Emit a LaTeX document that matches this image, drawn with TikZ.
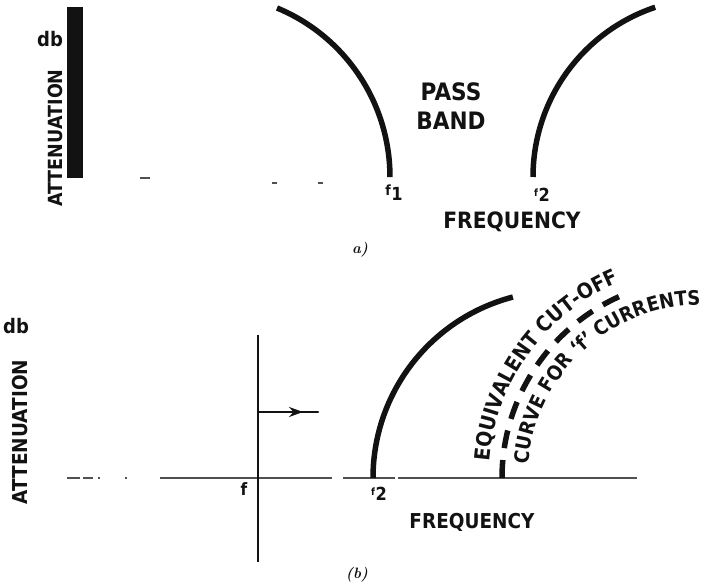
\documentclass[tikz,border=0pt]{standalone}
\usepackage{fontspec}
\usepackage{tikz}
\usetikzlibrary{positioning,arrows.meta,calc,decorations.text}
\newfontfamily\lblfont{DejaVu Sans}[FakeStretch=0.9]
\newcommand\fsub[2]{{\fontsize{#1}{#1}\selectfont f}\kern0.5pt\raisebox{-5pt}{#2}}
\definecolor{ink}{RGB}{18,18,18}
\definecolor{axisgray}{RGB}{80,80,80}
\tikzset{
  cutoff/.style={draw=ink, line width=5.5pt},
  cutdash/.style={draw=ink, line width=5.5pt, dash pattern=on 18pt off 12pt},
  axisline/.style={draw=axisgray, line width=1.3pt},
  marker/.style={draw=ink, line width=2.6pt},
  moveline/.style={draw=ink, line width=2.2pt, line cap=round},
  lbl/.style={font=\lblfont\bfseries\fontsize{#1}{#1}\selectfont, text=ink, inner sep=0pt},
  lbl/.default=20,
  sublbl/.style={font=\bfseries\itshape\fontsize{15}{15}\selectfont, text=ink, inner sep=0pt},
}
\begin{document}
\begin{tikzpicture}[x=1pt, y=1pt]
  \useasboundingbox (0,0) rectangle (709,586);
  \fill[ink] (67,408) rectangle (83,579);
  \node[lbl=20] (dbA) at (50,547) {db};
  \node[lbl=19.5, rotate=90, anchor=base] (attA) at (62,448) {ATTENUATION};
  \draw[axisline] (140,408) -- (150,408) (272,403) -- (277,403) (318,403) -- (323,403);
  \draw[cutoff] (277,578) arc[start angle=67.5, end angle=0, radius=183];
  \draw[cutoff] (533,409) arc[start angle=180, end angle=108.5, radius=179];
  \node[lbl=24] (pass) at (451,494.5) {PASS};
  \node[lbl=24, below=11pt of pass] (band) {BAND};
  \node[lbl=18] (f1A) at (394,393) {\fsub{14}{1}};
  \node[lbl=18] (f2A) at (542,391) {\fsub{10}{2}};
  \node[lbl=22.5] (freqA) at (512,364) {FREQUENCY};
  \node[sublbl] (capA) at (360,336) {a)};
  \node[lbl=20] (dbB) at (16,260) {db};
  \node[lbl=20.5, rotate=90, anchor=base] (attB) at (27,154) {ATTENUATION};
  \draw[axisline] (67,108) -- (80,108) (83,108) -- (93,108) (98,108) -- (100,108) (125,108) -- (127,108)
    (160,108) -- (332,108) (343,108) -- (395,108) (398,108) -- (637,108);
  \coordinate (fTop) at (258,251);
  \coordinate (fBot) at (258,24);
  \draw[marker] (fTop) -- (fBot);
  \coordinate (mvS) at (258,174);
  \coordinate (mvT) at (303,174);
  \coordinate (mvE) at (318,174);
  \draw[moveline] (mvS) -- (mvE);
  \draw[moveline, -{Stealth[length=14pt,width=10pt]}] (mvS) -- (mvT);
  \node[lbl=17] (fB) at (244,97) {f};
  \node[lbl=18] (f2B) at (379,92) {\fsub{10}{2}};
  \draw[cutoff] (373,108) arc[start angle=180, end angle=104.6, radius=187];
  \coordinate (eqc) at (701,108);
  \draw[cutdash] ($(eqc)+(-199,0)$) arc[start angle=180, end angle=111, radius=199];
  \path[decorate, decoration={text along path, text align=left,
    text={|\lblfont\bfseries\fontsize{21}{21}\selectfont\color{ink}|EQUIVALENT CUT-OFF}}]
    ($(eqc)+(175.5:212)$) arc[start angle=175.5, end angle=95, radius=212];
  \path[decorate, decoration={text along path, text align=left,
    text={|\lblfont\bfseries\fontsize{20}{20}\selectfont\color{ink}|CURVE FOR ‘f’ CURRENTS}}]
    ($(eqc)+(175.5:173)$) arc[start angle=175.5, end angle=75, radius=173];
  \node[lbl=20.5] (freqB) at (472,64) {FREQUENCY};
  \node[sublbl] (capB) at (357,11) {(b)};
\end{tikzpicture}
\end{document}
